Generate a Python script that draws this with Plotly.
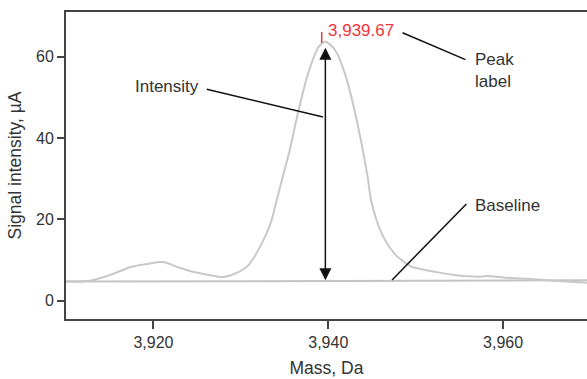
import plotly.graph_objects as go

# Spectrum trace (mass in Da, signal in µA)
mass = [3910.0, 3912.7, 3915.0, 3917.6, 3919.2, 3921.1, 3922.6, 3924.5, 3926.4, 3927.9,
        3929.4, 3930.9, 3932.4, 3933.4, 3934.1, 3934.7, 3935.5, 3936.6, 3937.7, 3938.9,
        3939.67, 3940.8, 3941.9, 3943.0, 3944.5, 3944.9, 3946.1, 3947.6, 3948.7, 3949.5,
        3950.6, 3952.5, 3954.4, 3955.9, 3957.4, 3958.2, 3960.1, 3962.7, 3965.8, 3969.6]
signal = [4.7, 4.9, 6.3, 8.4, 9.0, 9.5, 8.4, 7.1, 6.3, 5.8,
          6.7, 8.8, 14.1, 19.0, 24.7, 29.7, 36.2, 46.8, 55.9, 62.4,
          63.7, 61.6, 55.9, 46.9, 30.5, 24.7, 16.6, 11.5, 9.5, 8.4,
          7.8, 7.0, 6.3, 6.0, 5.9, 6.1, 5.7, 5.4, 4.9, 4.4]

baseline_mass = [3910.0, 3969.6]
baseline_signal = [4.7, 5.0]

peak_mass = 3939.67
peak_signal = 63.7
peak_text = "3,939.67"

x_ticks = [3920, 3940, 3960]
x_tick_labels = ["3,920", "3,940", "3,960"]
y_ticks = [0, 20, 40, 60]

FONT = "Liberation Sans, Arial, Helvetica, sans-serif"
TXT = "#333333"
RED = "#ee3340"

fig = go.Figure()
fig.add_trace(go.Scatter(x=baseline_mass, y=baseline_signal, mode="lines",
                         line=dict(color="#c4c4c4", width=2), hoverinfo="skip"))
fig.add_trace(go.Scatter(x=mass, y=signal, mode="lines",
                         line=dict(color="#c8c8c8", width=2, shape="spline", smoothing=0.8),
                         hoverinfo="skip"))

shapes = [
    # Intensity pointer
    dict(type="line", x0=3926.1, y0=52.0, x1=3939.4, y1=45.2, line=dict(color="#111", width=1.5)),
    # Peak label pointer
    dict(type="line", x0=3948.5, y0=65.9, x1=3955.7, y1=59.3, line=dict(color="#111", width=1.5)),
    # Baseline pointer
    dict(type="line", x0=3955.8, y0=23.8, x1=3947.3, y1=5.1, line=dict(color="#111", width=1.5)),
    # red peak tick
    dict(type="line", x0=3939.25, y0=66.1, x1=3939.25, y1=63.4, line=dict(color=RED, width=1.5)),
]

annotations = [
    dict(x=peak_mass, y=baseline_signal[0] + 0.35, ax=peak_mass, ay=peak_signal - 1.1,
         xref="x", yref="y", axref="x", ayref="y", text="", showarrow=True,
         arrowhead=2, startarrowhead=2, arrowside="end+start", arrowsize=1.6,
         arrowwidth=1.5, arrowcolor="#111", standoff=0, startstandoff=0),
    dict(x=3939.72, y=66.5, xref="x", yref="y", text=peak_text, showarrow=False,
         xanchor="left", yanchor="middle", font=dict(family=FONT, size=17, color=RED)),
    dict(x=3925.5, y=52.6, xref="x", yref="y", text="Intensity", showarrow=False,
         xanchor="right", yanchor="middle", font=dict(family=FONT, size=17, color=TXT)),
    dict(x=3956.6, y=56.7, xref="x", yref="y", text="Peak<br>label", showarrow=False,
         xanchor="left", yanchor="middle", align="left",
         font=dict(family=FONT, size=17, color=TXT)),
    dict(x=3956.6, y=23.5, xref="x", yref="y", text="Baseline", showarrow=False,
         xanchor="left", yanchor="middle", font=dict(family=FONT, size=17, color=TXT)),
]

fig.update_layout(
    width=587, height=379,
    margin=dict(l=66, r=0, t=12, b=60),
    paper_bgcolor="white", plot_bgcolor="white",
    showlegend=False,
    font=dict(family=FONT, color=TXT, size=16),
    shapes=shapes, annotations=annotations,
    xaxis=dict(range=[3910, 3969.6], tickvals=x_ticks, ticktext=x_tick_labels,
               showgrid=False, zeroline=False, showline=True, linecolor="#444",
               linewidth=2, mirror=True, ticks="outside", ticklen=8, tickwidth=1.5,
               tickcolor="#444", tickfont=dict(size=16, color=TXT),
               title=dict(text="Mass, Da", font=dict(size=17.5, color=TXT), standoff=12)),
    yaxis=dict(range=[-4.5, 71], tickvals=y_ticks, showgrid=False, zeroline=False,
               showline=True, linecolor="#444", linewidth=2, ticks="outside",
               ticklen=7, tickwidth=1.5, tickcolor="#444",
               tickfont=dict(size=16, color=TXT),
               title=dict(text="Signal intensity, µA", font=dict(size=17.5, color=TXT),
                          standoff=10)),
)

fig.write_html(
    "out.html",
    config={"displayModeBar": False},
    post_script="document.body.style.margin='0';document.body.style.overflow='hidden';",
)
